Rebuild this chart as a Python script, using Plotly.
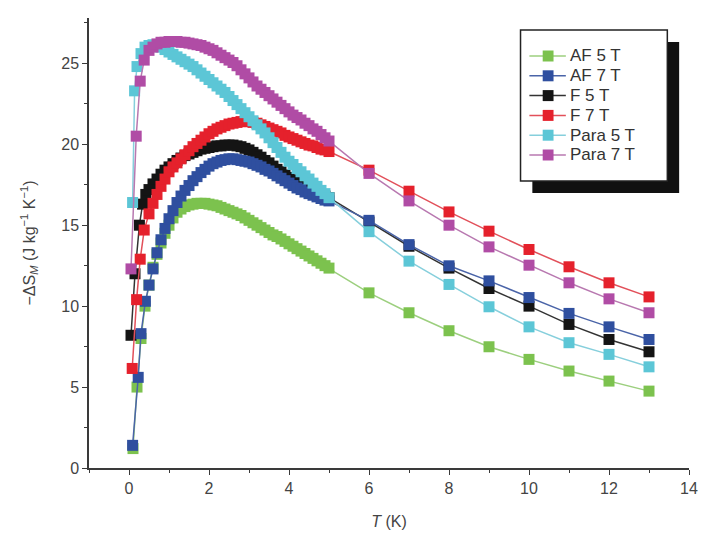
import plotly.graph_objects as go

# ---------------- data ----------------
T_DENSE = [0.5, 0.6, 0.7, 0.8, 0.9, 1.0, 1.1, 1.2, 1.3, 1.4,
           1.5, 1.6, 1.7, 1.8, 1.9, 2.0, 2.1, 2.2, 2.3, 2.4,
           2.5, 2.6, 2.7, 2.8, 2.9, 3.0, 3.1, 3.2, 3.3, 3.4,
           3.5, 3.6, 3.7, 3.8, 3.9, 4.0, 4.1, 4.2, 4.3, 4.4,
           4.5, 4.6, 4.7, 4.8, 4.9, 5.0]
T_SPARSE = [6, 7, 8, 9, 10, 11, 12, 13]

af5_T_low = [0.1, 0.2, 0.3, 0.4]
af5_low = [1.2, 5.0, 8.0, 10.0]
af5_dense = [11.3, 12.4, 13.2, 13.9, 14.5, 15.0, 15.45, 15.8, 16.0, 16.15,
             16.25, 16.3, 16.35, 16.35, 16.35, 16.3, 16.25, 16.2, 16.1, 16.0,
             15.9, 15.8, 15.7, 15.6, 15.45, 15.3, 15.15, 15.0, 14.85, 14.7,
             14.55, 14.4, 14.3, 14.15, 14.0, 13.85, 13.7, 13.55, 13.4, 13.25,
             13.1, 12.95, 12.8, 12.65, 12.5, 12.35]
af5_sparse = [10.82, 9.59, 8.48, 7.49, 6.71, 5.99, 5.37, 4.75]

af7_T_low = [0.09, 0.23, 0.3, 0.41]
af7_low = [1.4, 5.6, 8.3, 10.3]
af7_dense = [11.3, 12.3, 13.3, 14.1, 14.8, 15.4, 15.9, 16.4, 16.8, 17.15,
             17.45, 17.75, 18.0, 18.25, 18.45, 18.65, 18.8, 18.9, 19.0, 19.05,
             19.1, 19.1, 19.05, 19.0, 18.95, 18.9, 18.8, 18.7, 18.6, 18.45,
             18.35, 18.2, 18.05, 17.9, 17.75, 17.6, 17.45, 17.3, 17.2, 17.05,
             16.95, 16.85, 16.75, 16.65, 16.55, 16.5]
af7_sparse = [15.3, 13.8, 12.49, 11.56, 10.53, 9.55, 8.72, 7.94]

f5_T_low = [0.05, 0.15, 0.26, 0.34, 0.42]
f5_low = [8.2, 12.0, 15.0, 16.3, 16.9]
f5_dense = [17.2, 17.55, 17.85, 18.15, 18.4, 18.6, 18.8, 19.0, 19.15, 19.3,
            19.4, 19.5, 19.6, 19.7, 19.75, 19.8, 19.85, 19.9, 19.9, 19.95,
            19.95, 19.95, 19.9, 19.85, 19.75, 19.65, 19.5, 19.35, 19.2, 19.0,
            18.85, 18.65, 18.45, 18.3, 18.1, 17.95, 17.8, 17.65, 17.5, 17.35,
            17.25, 17.1, 17.0, 16.9, 16.8, 16.7]
f5_sparse = [15.2, 13.7, 12.35, 11.09, 10.0, 8.87, 7.94, 7.18]

f7_T_low = [0.08, 0.19, 0.28, 0.38]
f7_low = [6.15, 10.4, 12.9, 14.7]
f7_dense = [15.7, 16.35, 16.9, 17.4, 17.85, 18.3, 18.6, 18.85, 19.1, 19.35,
            19.6, 19.85, 20.05, 20.25, 20.45, 20.65, 20.8, 20.95, 21.05, 21.15,
            21.25, 21.3, 21.35, 21.4, 21.4, 21.4, 21.35, 21.3, 21.2, 21.1,
            21.0, 20.9, 20.8, 20.7, 20.55, 20.45, 20.35, 20.25, 20.15, 20.05,
            19.95, 19.9, 19.8, 19.7, 19.65, 19.55]
f7_sparse = [18.4, 17.1, 15.82, 14.63, 13.5, 12.43, 11.44, 10.57]

p5_T_low = [0.09, 0.14, 0.2, 0.3, 0.4]
p5_low = [16.4, 23.3, 24.8, 25.6, 26.0]
p5_dense = [26.1, 26.15, 26.1, 26.0, 25.85, 25.7, 25.55, 25.4, 25.25, 25.1,
            24.95, 24.8, 24.6, 24.4, 24.2, 24.0, 23.8, 23.6, 23.4, 23.2,
            22.95, 22.7, 22.45, 22.2, 21.95, 21.7, 21.45, 21.2, 20.95, 20.7,
            20.4, 20.1, 19.8, 19.5, 19.2, 18.95, 18.75, 18.5, 18.3, 18.05,
            17.85, 17.6, 17.4, 17.15, 16.95, 16.7]
p5_sparse = [14.6, 12.78, 11.34, 9.96, 8.72, 7.74, 7.02, 6.25]

p7_T_low = [0.05, 0.18, 0.28, 0.38]
p7_low = [12.3, 20.5, 23.9, 25.2]
p7_dense = [25.8, 26.0, 26.2, 26.3, 26.3, 26.35, 26.35, 26.35, 26.3, 26.3,
            26.25, 26.2, 26.15, 26.1, 26.0, 25.9, 25.8, 25.65, 25.5, 25.35,
            25.2, 25.05, 24.85, 24.6, 24.35, 24.1, 23.85, 23.6, 23.4, 23.2,
            23.0, 22.8, 22.6, 22.4, 22.2, 22.0, 21.8, 21.65, 21.5, 21.3,
            21.15, 20.95, 20.8, 20.6, 20.4, 20.2]
p7_sparse = [18.2, 16.5, 15.0, 13.66, 12.53, 11.44, 10.45, 9.59]

SERIES_NAMES = ["AF 5 T", "AF 7 T", "F 5 T", "F 7 T", "Para 5 T", "Para 7 T"]

# ---------------- styling ----------------
W, H = 710, 542
ML, MR, MT, MB = 89, 12, 18, 74
PW, PH = W - ML - MR, H - MT - MB

def px_x(p):
    return (p - ML) / PW

def px_y(p):
    return (H - MB - p) / PH

series = {
    "AF 5 T": (af5_T_low, af5_low, af5_dense, af5_sparse, "#7cc24e", "#9ccf7e"),
    "AF 7 T": (af7_T_low, af7_low, af7_dense, af7_sparse, "#2f4f9f", "#4a64a8"),
    "F 5 T": (f5_T_low, f5_low, f5_dense, f5_sparse, "#141414", "#333333"),
    "F 7 T": (f7_T_low, f7_low, f7_dense, f7_sparse, "#e5212c", "#e2505a"),
    "Para 5 T": (p5_T_low, p5_low, p5_dense, p5_sparse, "#5cc6d6", "#86cfdc"),
    "Para 7 T": (p7_T_low, p7_low, p7_dense, p7_sparse, "#b04ca5", "#b878b0"),
}
draw_order = ["AF 5 T", "F 5 T", "AF 7 T", "F 7 T", "Para 5 T", "Para 7 T"]

fig = go.Figure()
for name in draw_order:
    t_low, v_low, v_dense, v_sparse, mcol, lcol = series[name]
    x = list(t_low) + T_DENSE + T_SPARSE
    y = list(v_low) + v_dense + v_sparse
    fig.add_trace(go.Scatter(
        x=x, y=y, name=name, mode="lines+markers",
        line=dict(color=lcol, width=1.5),
        marker=dict(symbol="square", size=11, color=mcol, line=dict(width=0)),
        showlegend=False,
    ))

axis_color = "#3a3a3a"
font_fam = "Liberation Sans, Arial, sans-serif"

# legend box (white with drop shadow)
bx0, bx1, by0, by1 = 527, 676, 30, 181
sh = 12
shapes = [
    dict(type="rect", xref="paper", yref="paper",
         x0=px_x(bx0 + sh), x1=px_x(bx1 + sh), y0=px_y(by1 + sh), y1=px_y(by0 + sh),
         fillcolor="#111111", line=dict(width=0), layer="above"),
    dict(type="rect", xref="paper", yref="paper",
         x0=px_x(bx0), x1=px_x(bx1), y0=px_y(by1), y1=px_y(by0),
         fillcolor="white", line=dict(color="#222222", width=1.5), layer="above"),
]
annotations = []
row0, row_gap = 56, 19.8
key_x0, key_x1, key_c, half = 536, 573, 555, 5.5
for i, name in enumerate(SERIES_NAMES):
    mcol, lcol = series[name][4], series[name][5]
    yc = row0 + i * row_gap
    shapes.append(dict(type="line", xref="paper", yref="paper",
                       x0=px_x(key_x0), x1=px_x(key_x1), y0=px_y(yc), y1=px_y(yc),
                       line=dict(color=lcol, width=1.5), layer="above"))
    shapes.append(dict(type="rect", xref="paper", yref="paper",
                       x0=px_x(key_c - half), x1=px_x(key_c + half),
                       y0=px_y(yc + half), y1=px_y(yc - half),
                       fillcolor=mcol, line=dict(width=0), layer="above"))
    annotations.append(dict(xref="paper", yref="paper", x=px_x(576), y=px_y(yc),
                            xanchor="left", yanchor="middle", showarrow=False,
                            borderpad=0,
                            text=name, font=dict(family=font_fam, size=17, color="#333333")))

fig.update_layout(
    width=W, height=H,
    margin=dict(l=ML, r=MR, t=MT, b=MB),
    paper_bgcolor="white", plot_bgcolor="white",
    font=dict(family=font_fam, color="#444444", size=16),
    shapes=shapes,
    annotations=annotations,
    showlegend=False,
    xaxis=dict(
        range=[-1, 14], showgrid=False, zeroline=False,
        showline=True, linecolor=axis_color, linewidth=1.5,
        ticks="outside", tickcolor=axis_color, ticklen=5, tickwidth=1.2,
        tickmode="linear", tick0=0, dtick=2,
        minor=dict(ticks="outside", ticklen=3, tickcolor=axis_color, dtick=1, tick0=0),
        tickfont=dict(size=16, color="#444444"),
        title=dict(text="<i>T</i> (K)", font=dict(size=16, color="#444444"), standoff=20),
    ),
    yaxis=dict(
        range=[0, 27.8], showgrid=False, zeroline=False,
        showline=True, linecolor=axis_color, linewidth=1.5,
        ticks="outside", tickcolor=axis_color, ticklen=5, tickwidth=1.2,
        tickmode="linear", tick0=0, dtick=5,
        minor=dict(ticks="outside", ticklen=3, tickcolor=axis_color, dtick=2.5, tick0=0),
        tickfont=dict(size=16, color="#444444"),
        title=dict(text="\u2212\u0394S<sub><i>M</i></sub> (J kg<sup>\u22121</sup> K<sup>\u22121</sup>)",
                   font=dict(size=16, color="#444444"), standoff=22),
    ),
)

fig.write_html("out.html")
